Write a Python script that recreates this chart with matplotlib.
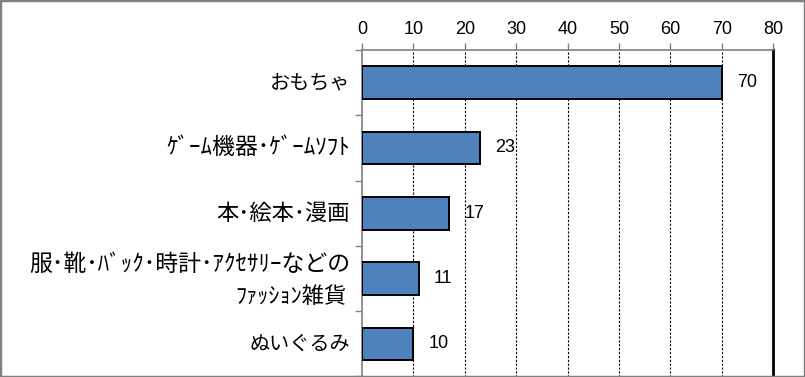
import matplotlib
matplotlib.use("Agg")
import matplotlib.pyplot as plt
from matplotlib.patches import Rectangle
import matplotlib.transforms as mtransforms

plt.rcParams['font.family'] = ['Noto Sans CJK JP', 'DejaVu Sans']

categories = ["おもちゃ", "ｹﾞｰﾑ機器･ｹﾞｰﾑｿﾌﾄ", "本･絵本･漫画",
              "服･靴･ﾊﾞｯｸ･時計･ｱｸｾｻﾘｰなどの\nﾌｧｯｼｮﾝ雑貨", "ぬいぐるみ"]
values = [70, 23, 17, 11, 10]
xticks = [0, 10, 20, 30, 40, 50, 60, 70, 80]

# style only: font sizes per label line
label_sizes = [14.5, 16.5, 16, (16.5, 16), 14.5]

W, H = 805, 377
fig = plt.figure(figsize=(W / 100, H / 100), dpi=100)
ax = fig.add_axes([362 / W, 0.5 / H, (773 - 362) / W, (377 - 50 - 0.5) / H])

ypos = list(range(len(categories)))
ax.barh(ypos, values, height=0.5, color="#4F81BD", edgecolor="black", linewidth=1.4, zorder=3)
ax.set_xlim(0, 80)
ax.set_ylim(len(categories) - 0.5, -0.5)

# x axis on top
ax.xaxis.set_ticks_position("top")
ax.xaxis.set_label_position("top")
ax.set_xticks(xticks)
ax.set_xticklabels([str(t) for t in xticks], family="Liberation Sans", fontsize=13)
ax.tick_params(axis="x", direction="out", length=5, width=1, color="#808080", pad=4)

# y ticks at category boundaries (no labels)
ax.set_yticks([i - 0.5 for i in range(len(categories) + 1)])
ax.set_yticklabels([])
ax.tick_params(axis="y", which="major", direction="out", length=5, width=1, color="#808080")

# category labels
trans = mtransforms.blended_transform_factory(ax.transAxes, ax.transData)
for i, c in enumerate(categories):
    if "\n" in c:
        l1, l2 = c.split("\n")
        s1, s2 = label_sizes[i]
        ax.text(-12 / 411, i - 0.22, l1, transform=trans, ha="right", va="center", fontsize=s1)
        ax.text(-15 / 411, i + 0.27, l2, transform=trans, ha="right", va="center", fontsize=s2)
    else:
        ax.text(-12 / 411, i, c, transform=trans, ha="right", va="center", fontsize=label_sizes[i])

# grid
for t in xticks[1:-1]:
    ax.axvline(t, color="black", linewidth=0.8, linestyle=(0, (2, 1.5)), zorder=1)

for s in ["top", "left"]:
    ax.spines[s].set_color("#808080")
    ax.spines[s].set_linewidth(1.2)
ax.spines["right"].set_color("black")
ax.spines["right"].set_linewidth(2)
ax.spines["bottom"].set_visible(False)

# value labels
for i, v in enumerate(values):
    ax.text(v + 3, i, str(v), va="center", ha="left", family="Liberation Sans", fontsize=13)

# figure border
fig.patches.append(Rectangle((0, 0), 1, 1, transform=fig.transFigure, fill=False,
                             edgecolor="#808080", linewidth=2.5))

fig.savefig("out.png", dpi=100)
